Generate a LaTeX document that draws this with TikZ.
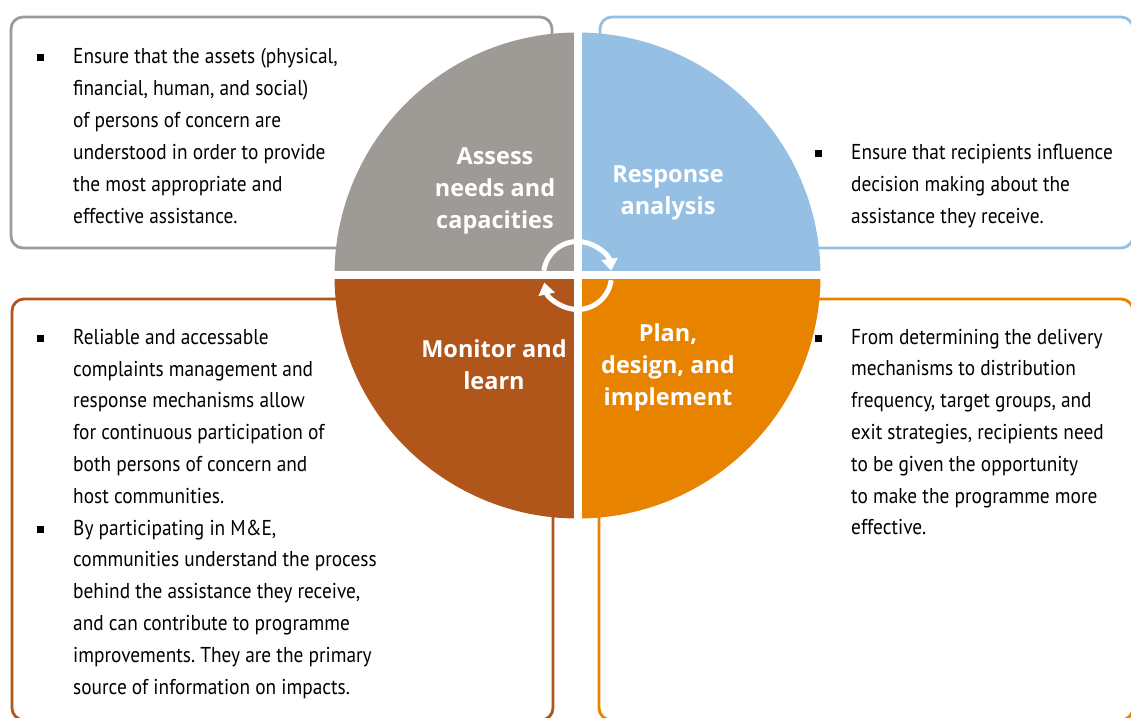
\documentclass[tikz,border=0pt]{standalone}
\usepackage{fontspec}
\setmainfont{PT Sans}
\newfontfamily\bodyfont[FakeStretch=0.9]{PT Sans}
\newfontfamily\labelfont{Open Sans}
\usetikzlibrary{arrows.meta}
\definecolor{qgray}{RGB}{158,154,149}
\definecolor{qblue}{RGB}{149,192,227}
\definecolor{qbrown}{RGB}{176,86,26}
\definecolor{qorange}{RGB}{232,131,0}
\newcommand\blt{\llap{\raisebox{2pt}{\rule{7pt}{7pt}}\hspace{29pt}}}
\newcommand\fl{\rule{0pt}{17pt}}
\frenchspacing
\begin{document}
\begin{tikzpicture}[x=1pt,y=1pt,
  box/.style={line width=2.8pt, rounded corners=12pt},
  body/.style={anchor=north west, inner sep=0pt, align=left, text=black,
    font=\bodyfont\fontsize{21.5pt}{32pt}\selectfont},
  bodyb/.style={body, font=\bodyfont\fontsize{21.5pt}{31.8pt}\selectfont},
  lab/.style={align=center, inner sep=0pt, text=white,
    font=\labelfont\bfseries\fontsize{23.5pt}{32pt}\selectfont},
  cyc/.style={white, line width=5pt, -{Triangle[width=16pt,length=12pt]}},
  gap/.style={white, line width=8pt}
]
\useasboundingbox (0,0) rectangle (1131,717);
% boxes
\draw[box, draw=qgray] (11,469) rectangle (552,700);
\draw[box, draw=qblue] (600,469) rectangle (1133,700);
\draw[box, draw=qbrown] (12,-3) rectangle (553,418);
\draw[box, draw=qorange] (599,-3) rectangle (1133,418);
% circle quadrants
\coordinate (C) at (577.5,441.5);
\fill[qgray] (C) -- ++(180:243pt) arc[start angle=180, end angle=90, radius=243pt] -- cycle;
\fill[qblue] (C) -- ++(90:243pt) arc[start angle=90, end angle=0, radius=243pt] -- cycle;
\fill[qorange] (C) -- ++(0:243pt) arc[start angle=0, end angle=-90, radius=243pt] -- cycle;
\fill[qbrown] (C) -- ++(-90:243pt) arc[start angle=-90, end angle=-180, radius=243pt] -- cycle;
\draw[gap] (C) ++(-246pt,0) coordinate (gl) -- ++(492pt,0) coordinate (gr);
\draw[gap] (C) ++(0,-246pt) coordinate (gb) -- ++(0,492pt) coordinate (gt);
% cycle arrows
\draw[cyc] (C) ++(172:34pt) arc[start angle=172, end angle=8, radius=34pt];
\draw[cyc] (C) ++(-8:34pt) arc[start angle=-8, end angle=-168, radius=34pt];
% labels
\node[lab] (assess) at (495,526) {Assess\\needs and\\capacities};
\node[lab] (resp) at (668,524) {Response\\analysis};
\node[lab] (mon) at (494,352.5) {Monitor and\\learn};
\node[lab] (plan) at (668,350) {Plan,\\design, and\\implement};
% texts
\node[body] (tl) at (73,671) {\fl\blt Ensure that the assets (physical,\\financial, human, and social)\\of persons of concern are\\understood in order to provide\\the most appropriate and\\effective assistance.};
\node[body] (tr) at (851,575) {\fl\blt Ensure that recipients influence\\decision making about the\\assistance they receive.};
\node[bodyb] (bl) at (73,390) {\fl\blt Reliable and accessable\\complaints management and\\response mechanisms allow\\for continuous participation of\\both persons of concern and\\host communities.\\\blt By participating in M\&E,\\communities understand the process\\behind the assistance they receive,\\and can contribute to programme\\improvements. They are the primary\\source of information on impacts.};
\node[bodyb] (br) at (851,390) {\fl\blt From determining the delivery\\mechanisms to distribution\\frequency, target groups, and\\exit strategies, recipients need\\to be given the opportunity\\to make the programme more\\effective.};
\end{tikzpicture}
\end{document}
